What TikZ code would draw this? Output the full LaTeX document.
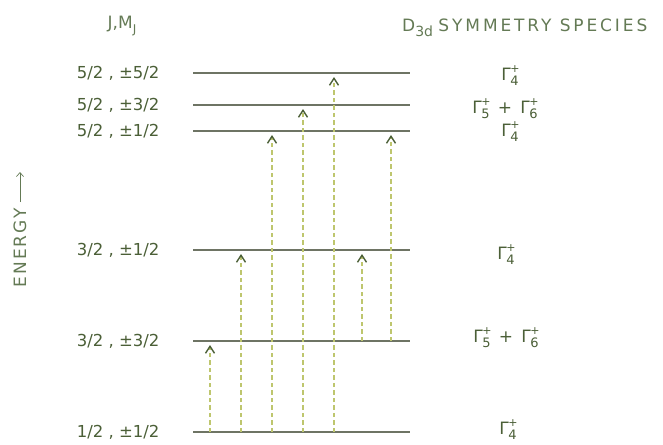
\documentclass[tikz,border=0pt]{standalone}
\usepackage{fontspec}
\setmainfont{DejaVu Sans}
\usetikzlibrary{arrows.meta,positioning}
\definecolor{inkgreen}{RGB}{75,95,55}
\definecolor{headgreen}{RGB}{100,122,85}
\definecolor{linegray}{RGB}{110,116,100}
\definecolor{dashgreen}{RGB}{190,198,110}

\tikzset{
  level/.style={linegray, line width=1.2pt},
  jlabel/.style={inkgreen, font=\fontsize{16.5}{18}\selectfont},
  spec/.style={inkgreen, font=\fontsize{17}{19}\selectfont, inner sep=1pt},
  head/.style={headgreen, font=\fontsize{17}{19}\selectfont},
  trans/.style={dashgreen, line width=1.1pt, dash pattern=on 4.5pt off 3pt,
    shorten >=4pt, -{Straight Barb[length=7pt,width=9pt,line width=1.4pt,color=inkgreen]}},
}
\newcommand{\gam}[1]{Γ\kern-0.5pt\rlap{\raisebox{0.8ex}{\fontsize{11}{11}\selectfont +}}\raisebox{-0.6ex}{\fontsize{13}{13}\selectfont #1}}

\begin{document}
\begin{tikzpicture}[x=1pt,y=-1pt]
\useasboundingbox (0,0) rectangle (663,444);
% energy levels
\foreach \name/\yy in {a/73,b/105,c/131,d/250,e/341,f/432}{
  \coordinate (\name-left) at (193,\yy);
  \coordinate (\name-right) at (410,\yy);
  \draw[level] (\name-left) -- (\name-right);
}
% J, M_J labels
\node[jlabel, left=30pt of a-left] (ja) {5/2 , ±5/2};
\node[jlabel, left=30pt of b-left] (jb) {5/2 , ±3/2};
\node[jlabel, left=30pt of c-left] (jc) {5/2 , ±1/2};
\node[jlabel, left=30pt of d-left] (jd) {3/2 , ±1/2};
\node[jlabel, left=30pt of e-left] (je) {3/2 , ±3/2};
\node[jlabel, left=30pt of f-left] (jf) {1/2 , ±1/2};
% symmetry species
\node[spec] (sa) at ([xshift=100pt,yshift=-3pt]a-right) {\gam{4}};
\node[spec] (sb) at ([xshift=95pt,yshift=-4pt]b-right) {\gam{5} \,+\, \gam{6}};
\node[spec] (sc) at ([xshift=100pt,yshift=-1pt]c-right) {\gam{4}};
\node[spec] (sd) at ([xshift=96pt,yshift=-5pt]d-right) {\gam{4}};
\node[spec] (se) at ([xshift=96pt,yshift=3pt]e-right) {\gam{5} \,+\, \gam{6}};
\node[spec] (sf) at ([xshift=98pt,yshift=2pt]f-right) {\gam{4}};
% headers
\node[head] (jm) at (122,26) {J,M\raisebox{-0.45ex}{\fontsize{12}{12}\selectfont J}};
\node[head, anchor=west, inner sep=0pt] (sym) at (402,28) {D\raisebox{-0.5ex}{\fontsize{14}{14}\selectfont 3d} \addfontfeature{LetterSpace=17}SYMMETRY SPECIES};
\node[head, rotate=90, inner sep=0pt] (energy) at (20,248) {\addfontfeature{LetterSpace=12}ENERGY};
\coordinate (up) at (20,172);
\draw[headgreen, line width=0.7pt, -{Straight Barb[length=4pt,width=7pt]}] (energy.east |- 0,202) -- (up);
% transitions
\foreach \xx/\lo/\hi in {210/f/e,241/f/d,272/f/c,303/f/b,334/f/a,362/e/d,391/e/c}
  \draw[trans] (\xx,0 |- \lo-left) -- (\xx,0 |- \hi-left);
\end{tikzpicture}
\end{document}
